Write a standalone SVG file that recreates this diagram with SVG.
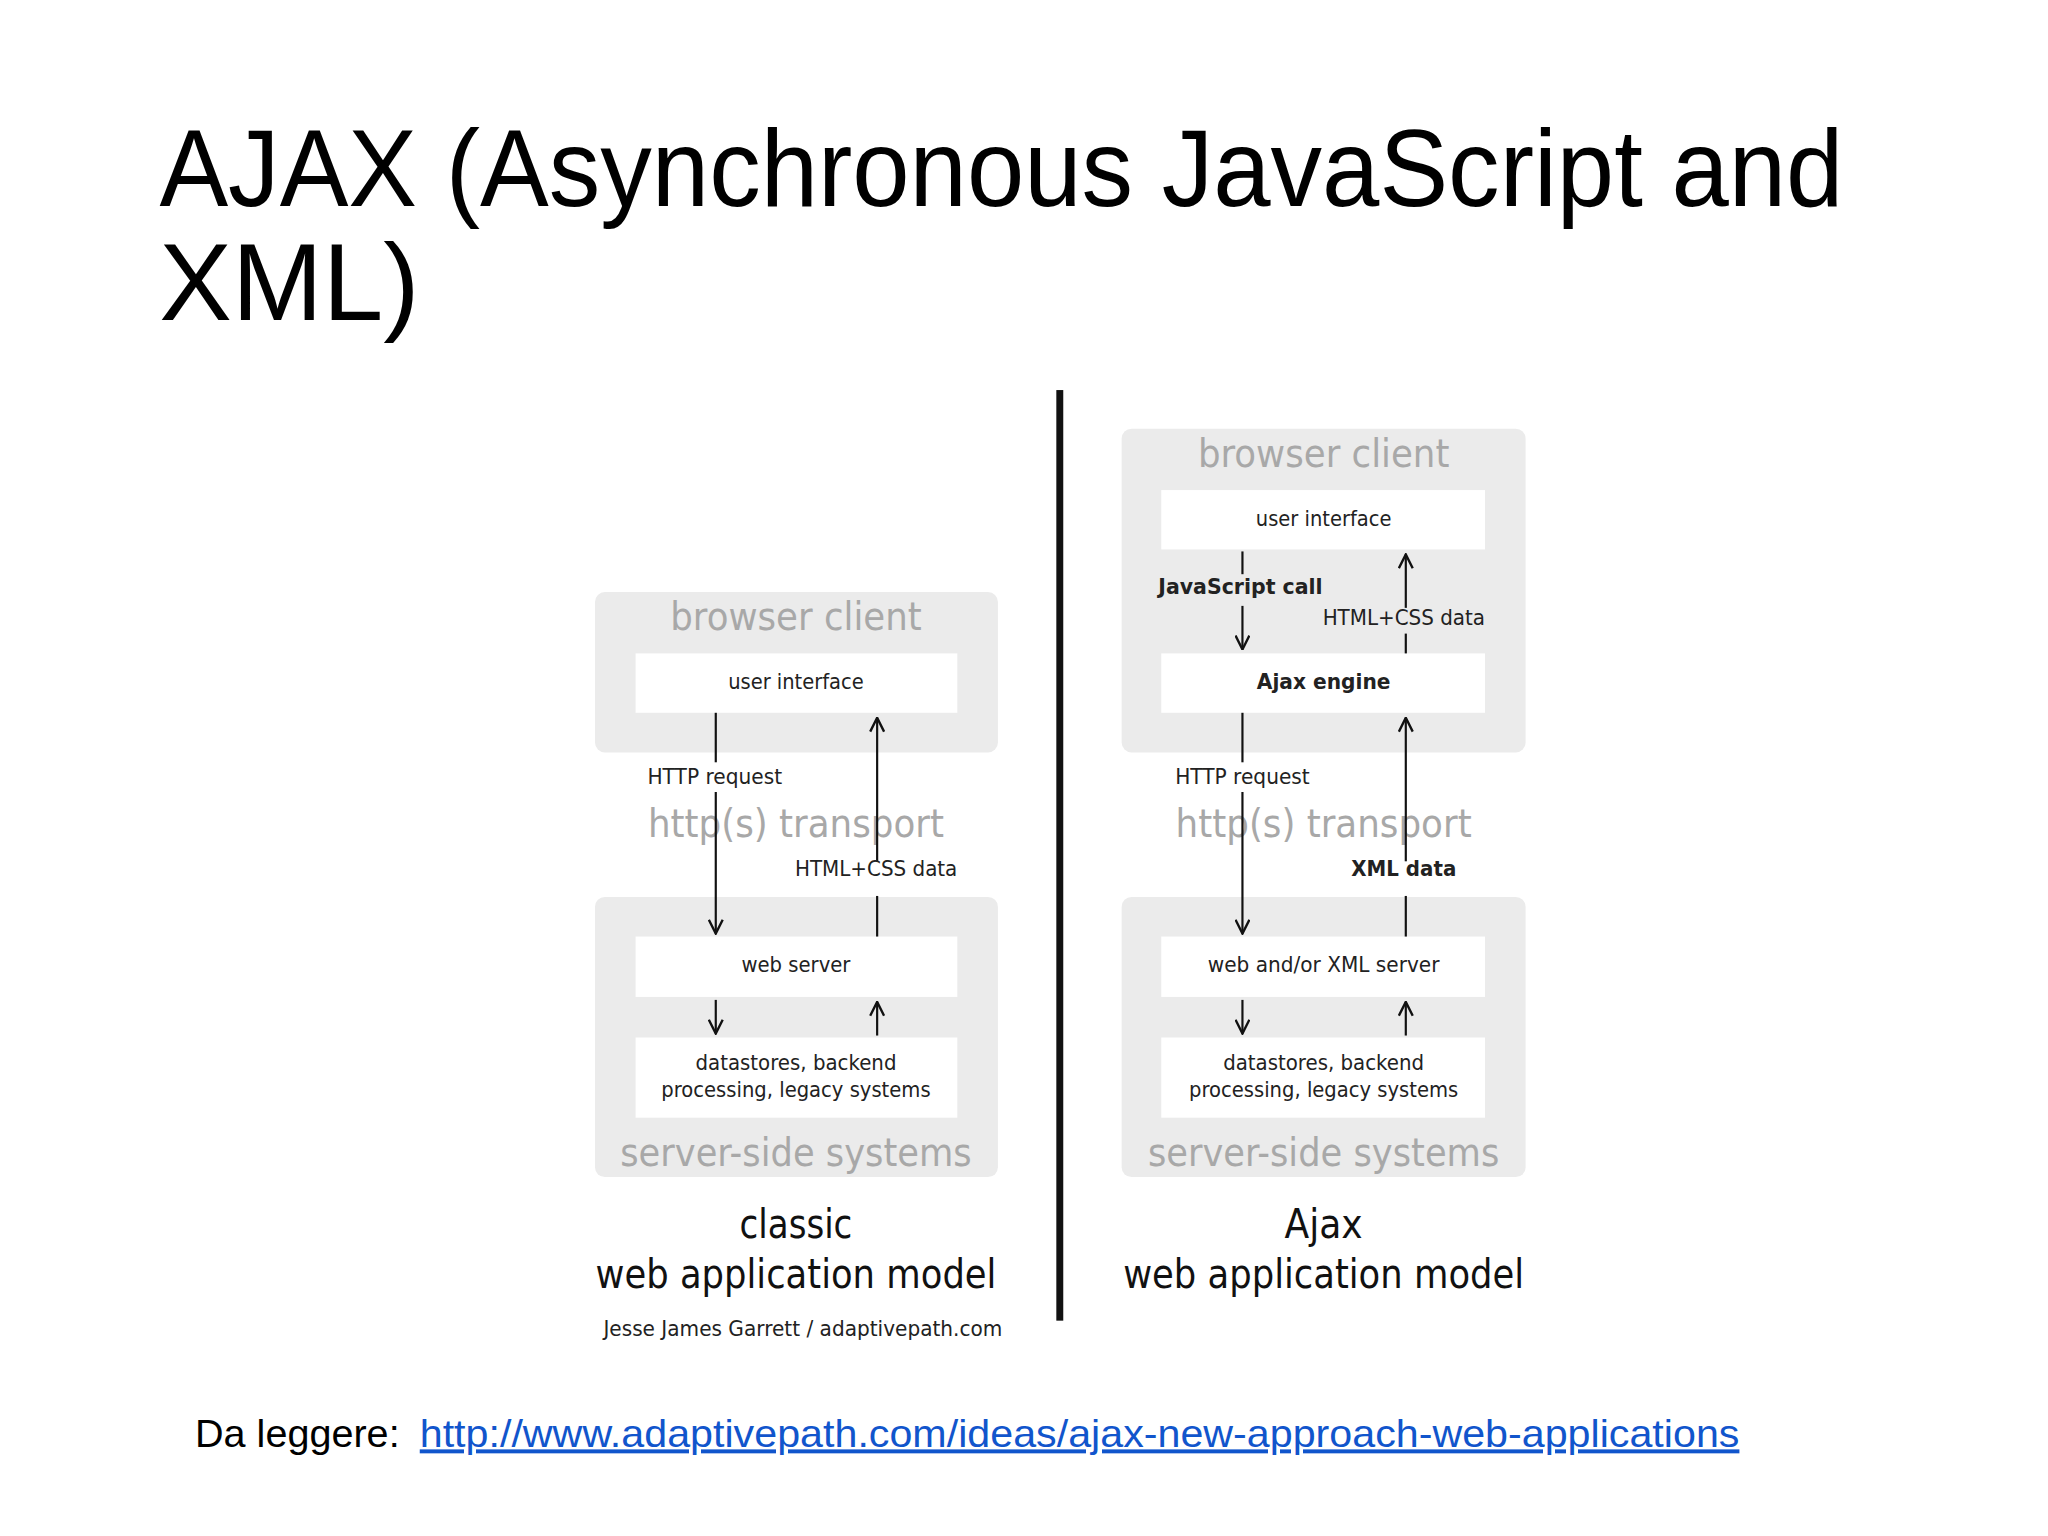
<svg xmlns="http://www.w3.org/2000/svg" width="2048" height="1536" viewBox="0 0 2048 1536">
<defs>
<marker id="ah" viewBox="0 0 16 16" refX="15" refY="8" markerWidth="16" markerHeight="16" markerUnits="userSpaceOnUse" orient="auto">
<path d="M1,1 L15,8 L1,15" fill="none" stroke="#111" stroke-width="2.4"/>
</marker>
<style>
.panel{fill:#ebebeb}
.box{fill:#fff}
.big{font-family:"DejaVu Sans",Verdana,sans-serif;font-size:40px;fill:#a8a8a8;text-anchor:middle}
.sm{font-family:"DejaVu Sans",Verdana,sans-serif;font-size:21px;fill:#222;text-anchor:middle}
.b{font-weight:bold}
.cap{font-family:"DejaVu Sans",Verdana,sans-serif;font-size:42px;fill:#111;text-anchor:middle}
.ln{stroke:#111;stroke-width:2.2;fill:none}
</style>
</defs>
<rect width="2048" height="1536" fill="#fff"/>
<g transform="scale(0.99)">
<g id="title" font-family="Liberation Sans, Arial, sans-serif" font-size="110" fill="#000">
<text x="161" y="208" textLength="1701" lengthAdjust="spacingAndGlyphs">AJAX (Asynchronous JavaScript and</text>
<text x="161" y="323">XML)</text>
</g>
<g id="classic-browser">
<rect class="panel" x="601" y="598" width="407" height="162" rx="10"/>
<text class="big" x="804" y="636" textLength="254" lengthAdjust="spacingAndGlyphs">browser client</text>
</g>
<g id="classic-ui"><rect class="box" x="642" y="660" width="325" height="60"/><text class="sm" x="804" y="696" textLength="137" lengthAdjust="spacingAndGlyphs">user interface</text></g>
<g id="classic-server">
<rect class="panel" x="601" y="906" width="407" height="283" rx="10"/>
<text class="big" x="804" y="1178" textLength="355" lengthAdjust="spacingAndGlyphs">server-side systems</text>
</g>
<g id="classic-web"><rect class="box" x="642" y="946" width="325" height="61"/><text class="sm" x="804" y="982" textLength="110" lengthAdjust="spacingAndGlyphs">web server</text></g>
<g id="classic-data"><rect class="box" x="642" y="1048" width="325" height="81"/>
<text class="sm" x="804" y="1081" textLength="203" lengthAdjust="spacingAndGlyphs">datastores, backend</text>
<text class="sm" x="804" y="1108" textLength="272" lengthAdjust="spacingAndGlyphs">processing, legacy systems</text></g>
<g id="classic-transport"><text class="big" x="804" y="845" textLength="299" lengthAdjust="spacingAndGlyphs">http(s) transport</text></g>

<g id="ajax-browser">
<rect class="panel" x="1133" y="433" width="408" height="327" rx="10"/>
<text class="big" x="1337" y="472" textLength="254" lengthAdjust="spacingAndGlyphs">browser client</text>
</g>
<g id="ajax-ui"><rect class="box" x="1173" y="495" width="327" height="60"/><text class="sm" x="1337" y="531" textLength="137" lengthAdjust="spacingAndGlyphs">user interface</text></g>
<g id="ajax-engine"><rect class="box" x="1173" y="660" width="327" height="60"/><text class="sm b" x="1337" y="696" textLength="135" lengthAdjust="spacingAndGlyphs">Ajax engine</text></g>
<g id="ajax-server">
<rect class="panel" x="1133" y="906" width="408" height="283" rx="10"/>
<text class="big" x="1337" y="1178" textLength="355" lengthAdjust="spacingAndGlyphs">server-side systems</text>
</g>
<g id="ajax-web"><rect class="box" x="1173" y="946" width="327" height="61"/><text class="sm" x="1337" y="982" textLength="234" lengthAdjust="spacingAndGlyphs">web and/or XML server</text></g>
<g id="ajax-data"><rect class="box" x="1173" y="1048" width="327" height="81"/>
<text class="sm" x="1337" y="1081" textLength="203" lengthAdjust="spacingAndGlyphs">datastores, backend</text>
<text class="sm" x="1337" y="1108" textLength="272" lengthAdjust="spacingAndGlyphs">processing, legacy systems</text></g>
<g id="ajax-transport"><text class="big" x="1337" y="845" textLength="299" lengthAdjust="spacingAndGlyphs">http(s) transport</text></g>

<g id="connectors">
<path class="ln" d="M723,720 V770"/>
<path class="ln" d="M723,800 V943" marker-end="url(#ah)"/>
<path class="ln" d="M886,946 V905"/>
<path class="ln" d="M886,870 V725" marker-end="url(#ah)"/>
<path class="ln" d="M723,1010 V1044" marker-end="url(#ah)"/>
<path class="ln" d="M886,1046 V1012" marker-end="url(#ah)"/>
<path class="ln" d="M1255,557 V580"/>
<path class="ln" d="M1255,612 V656" marker-end="url(#ah)"/>
<path class="ln" d="M1420,660 V640"/>
<path class="ln" d="M1420,614 V560" marker-end="url(#ah)"/>
<path class="ln" d="M1255,720 V770"/>
<path class="ln" d="M1255,800 V943" marker-end="url(#ah)"/>
<path class="ln" d="M1420,946 V905"/>
<path class="ln" d="M1420,870 V725" marker-end="url(#ah)"/>
<path class="ln" d="M1255,1010 V1044" marker-end="url(#ah)"/>
<path class="ln" d="M1420,1046 V1012" marker-end="url(#ah)"/>
<text class="sm" x="722" y="792" textLength="136" lengthAdjust="spacingAndGlyphs">HTTP request</text>
<text class="sm" x="885" y="885" textLength="164" lengthAdjust="spacingAndGlyphs">HTML+CSS data</text>
<text class="sm b" x="1253" y="600" textLength="166" lengthAdjust="spacingAndGlyphs">JavaScript call</text>
<text class="sm" x="1418" y="631" textLength="164" lengthAdjust="spacingAndGlyphs">HTML+CSS data</text>
<text class="sm" x="1255" y="792" textLength="136" lengthAdjust="spacingAndGlyphs">HTTP request</text>
<text class="sm b" x="1418" y="885" textLength="106" lengthAdjust="spacingAndGlyphs">XML data</text>
</g>
<g id="divider"><rect x="1067" y="394" width="7" height="940" fill="#111"/></g>
<g id="captions">
<text class="cap" x="804" y="1251" textLength="114" lengthAdjust="spacingAndGlyphs">classic</text>
<text class="cap" x="804" y="1301" textLength="405" lengthAdjust="spacingAndGlyphs">web application model</text>
<text class="sm" x="811" y="1350" textLength="403" lengthAdjust="spacingAndGlyphs">Jesse James Garrett / adaptivepath.com</text>
<text class="cap" x="1337" y="1251" textLength="79" lengthAdjust="spacingAndGlyphs">Ajax</text>
<text class="cap" x="1337" y="1301" textLength="405" lengthAdjust="spacingAndGlyphs">web application model</text>
</g>
<g id="footer" font-family="Liberation Sans, Arial, sans-serif" font-size="40">
<text x="197" y="1462" fill="#000">Da leggere:</text>
<text x="424" y="1462" fill="#1155cc" text-decoration="underline" textLength="1333" lengthAdjust="spacingAndGlyphs">http://www.adaptivepath.com/ideas/ajax-new-approach-web-applications</text>
</g>
</g>
</svg>
